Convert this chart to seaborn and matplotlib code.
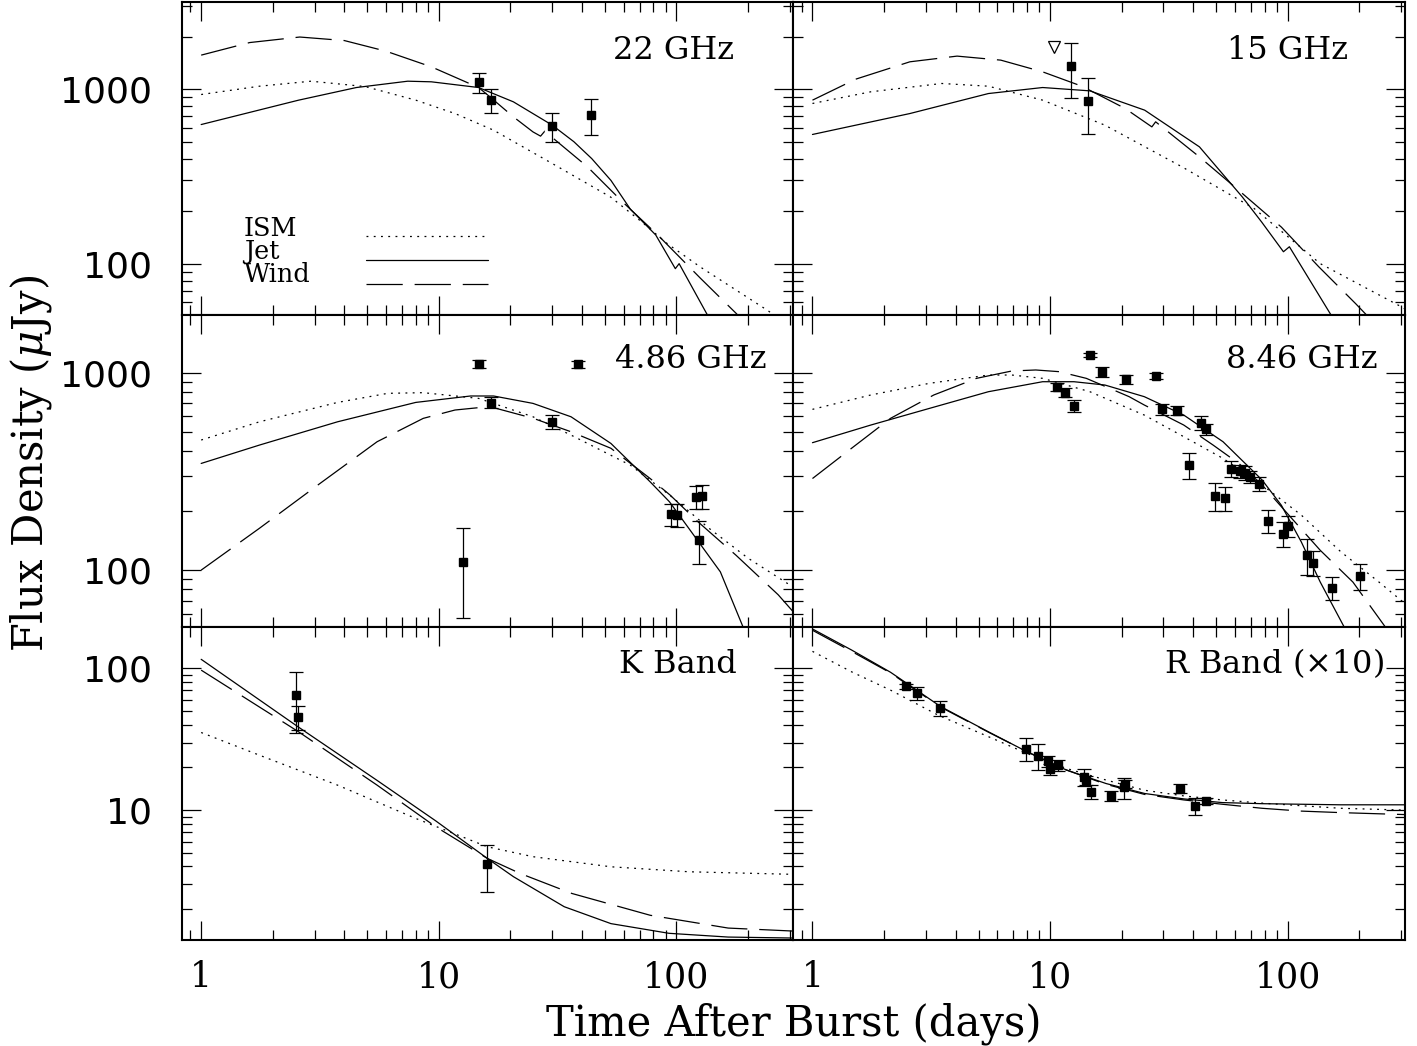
import matplotlib
matplotlib.use("Agg")
import matplotlib.pyplot as plt
from matplotlib.lines import Line2D
from matplotlib.ticker import FuncFormatter, NullFormatter, LogLocator
import numpy as np
import pandas as pd
import seaborn as sns

# ---------------- measured points (time in days, flux in uJy) ----------------
t22 = [14.7, 16.6, 29.9, 43.7]
f22 = [1100, 870, 613, 712]
e22 = [145, 137, 113, 168]

t15 = [12.3, 14.5]
f15 = [1361, 857]
e15 = [475, 300]
t15_lim = [10.35]
f15_lim = [1750]

t486 = [12.6, 14.7, 16.6, 29.8, 38.4, 95.2, 100.7, 120.8, 124.5, 128]
f486 = [110, 1111, 705, 564, 1102, 192, 190, 235, 142, 237]
e486 = [53, 50, 45, 48, 45, 24, 25, 32, 35, 34]

t846 = [10.7, 11.6, 12.6, 14.7, 16.6, 20.8, 27.8, 29.7, 34.1, 38.4, 43.3, 45.5, 49.4,
        54.3, 57.5, 62.8, 66.2, 69.5, 75.9, 82.4, 95.2, 100.7, 121, 127.4, 152.8, 200.9]
f846 = [849, 792, 681, 1229, 1012, 925, 962, 652, 642, 340, 558, 516, 238,
        231, 327, 317, 311, 297, 273, 178, 153, 168, 119, 109, 81.4, 93.3]
e846 = [40, 40, 47, 35, 58, 50, 38, 45, 35, 50, 43, 32, 38,
        32, 30, 25, 25, 22, 22, 23, 22, 20, 25, 16, 11, 14]

tK = [2.50, 2.55, 16.0]
fK = [64.8, 45.6, 4.16]
eK = [30, 8.7, 1.5]

tR = [2.48, 2.75, 3.45, 7.94, 8.89, 9.81, 9.98, 10.8, 13.9, 14.1, 14.8, 18.0, 20.5, 20.7, 35.2, 40.6, 45.3]
fR = [75.0, 66.6, 52.8, 27.2, 24.1, 22.2, 19.5, 20.8, 17.2, 16.3, 13.5, 12.6, 14.45, 15.3, 14.2, 10.7, 11.6]
eR = [3, 7, 6.5, 5, 5, 2, 1.7, 1.8, 2.4, 1.2, 1.5, 1, 2.5, 1.0, 1.1, 1.4, 0.5]

# ---------------- model curves ----------------
t22_ism = [1, 1.76, 2.9, 4.9, 8.0, 11.7, 17.0, 30, 52.8, 71.6, 91.6, 126, 240, 300]
f22_ism = [932, 1040, 1111, 1035, 865, 725, 582, 375, 241, 173, 130, 95.7, 54.3, 44]
t22_jet = [1, 2.57, 4.5, 7.4, 9.3, 14.7, 20.6, 30, 37, 44, 53, 64, 81.8, 98.9, 102.6, 134, 150]
f22_jet = [627, 865, 1022, 1111, 1102, 1022, 846, 622, 500, 400, 300, 205, 146, 93.6, 100, 51.7, 40]
t22_wind = [1, 1.6, 2.6, 4.0, 6.0, 9.3, 14.7, 16.4, 20.6, 24.9, 26.8, 27.9, 42.2, 59.3, 83.4, 126, 178, 200]
f22_wind = [1567, 1850, 1990, 1900, 1650, 1343, 1022, 904, 694, 569, 538, 574, 359, 226, 146, 82.6, 52, 44]

t15_ism = [1, 1.76, 3.5, 5.5, 9.3, 17, 36, 72.2, 137, 305, 330]
f15_ism = [828, 966, 1078, 1040, 865, 622, 358, 207, 100, 56, 52]
t15_jet = [1, 2.57, 5.5, 9.3, 14.7, 25, 42.5, 64.4, 77.7, 95.9, 101.6, 151, 170]
f15_jet = [550, 725, 944, 1022, 978, 758, 467, 241, 173, 117, 125, 51.6, 40]
t15_wind = [1, 1.52, 2.57, 4.06, 6.2, 9.3, 13.6, 20.7, 26.8, 27.8, 42.5, 62, 94, 135, 193, 230]
f15_wind = [865, 1141, 1435, 1547, 1467, 1257, 1040, 775, 608, 650, 409, 264, 162, 96, 59, 46]

t486_ism = [1, 1.76, 3.75, 6.1, 8.6, 14.7, 24.9, 36, 64, 93.6, 137, 200, 310]
f486_ism = [456, 564, 707, 786, 792, 741, 598, 483, 340, 240, 163, 115, 82]
t486_jet = [1, 1.76, 3.75, 8, 13.6, 17, 24.9, 36, 53, 77.5, 93.4, 112.6, 153, 190, 200]
f486_jet = [347, 430, 564, 707, 762, 762, 699, 598, 438, 280, 222, 163, 98, 52, 45]
t486_wind = [1, 1.76, 3.1, 5.5, 8.6, 11.7, 14.7, 17, 25, 36, 53, 77.5, 94, 123, 178, 268, 310]
f486_wind = [100, 163, 270, 447, 587, 647, 665, 665, 587, 502, 414, 291, 240, 176, 119, 75, 61.5]

t846_ism = [1, 1.76, 3.1, 5.5, 6.9, 9.3, 14.7, 24.9, 36.5, 53.4, 78, 114, 167, 242, 310]
f846_ism = [652, 771, 883, 973, 973, 936, 801, 610, 474, 368, 270, 190, 124, 87, 68]
t846_jet = [1, 1.76, 3.1, 5.5, 9.3, 12.6, 17, 24.9, 36.5, 53.4, 78, 94, 114, 137, 172, 190]
f846_jet = [442, 543, 659, 801, 900, 900, 866, 756, 610, 447, 286, 213, 139, 87, 52, 42]
t846_wind = [1, 1.46, 2.13, 3.24, 4.9, 6.9, 8.7, 10.9, 14.2, 21.5, 24.9, 36.5, 48.5, 62.6, 78, 101, 137, 188, 262, 280]
f846_wind = [291, 414, 587, 771, 936, 1020, 1032, 1012, 936, 756, 686, 543, 430, 345, 270, 190, 126, 87, 50, 45]

tK_ism = [1, 1.76, 3.75, 8, 16, 24.9, 53, 113, 310]
fK_ism = [35.3, 24.4, 15.0, 8.73, 5.51, 4.69, 3.98, 3.67, 3.52]
tK_jet = [1, 2.57, 5.5, 9.7, 16, 20.6, 33.7, 53, 93, 165, 310]
fK_jet = [116, 38.5, 16.2, 8.4, 4.56, 3.39, 2.08, 1.58, 1.35, 1.27, 1.25]
tK_wind = [1, 2.57, 5.5, 9.7, 16, 22, 36.3, 77.5, 165, 310]
fK_wind = [97.3, 35.7, 15.0, 7.63, 4.56, 3.57, 2.58, 1.81, 1.47, 1.40]

tR_ism = [1, 1.46, 2.13, 3.38, 5.5, 8, 11.7, 17.2, 25, 36.5, 53, 78, 167, 310]
fR_ism = [132, 94.7, 70.3, 46.8, 33.0, 25.1, 19.7, 16.3, 13.8, 12.6, 11.8, 11.2, 10.3, 10.0]
tR_jet = [1, 1.46, 2.13, 2.48, 3.45, 5.5, 8, 11.7, 17.2, 25, 36.5, 53, 78, 167, 310]
fR_jet = [190, 135, 94, 79, 54, 35.7, 25.8, 19.2, 15.4, 13.1, 12.0, 11.3, 11.1, 10.9, 10.9]
tR_wind = [1, 1.46, 2.13, 2.48, 3.45, 5.5, 8, 11.7, 17.2, 25, 36.5, 53, 78, 114, 167, 310]
fR_wind = [186, 132, 93, 78, 53.5, 35.5, 25.8, 19.2, 15.2, 12.9, 11.8, 11.0, 10.3, 9.84, 9.6, 9.3]

panel_names = ["22 GHz", "15 GHz", "4.86 GHz", "8.46 GHz", "K Band", r"R Band ($\times$10)"]
row_ylims = [(51, 3160), (51.3, 1967), (1.21, 195)]

# ---------------- style ----------------
sns.set_theme(style="ticks")
plt.rcParams["font.family"] = ["DejaVu Serif"]
plt.rcParams["mathtext.fontset"] = "dejavuserif"
plt.rcParams["text.color"] = "black"
plt.rcParams["axes.labelcolor"] = "black"
plt.rcParams["xtick.color"] = "black"
plt.rcParams["ytick.color"] = "black"
plt.rcParams["axes.edgecolor"] = "black"

model_dashes = {"ISM": (1.5, 4.3), "Jet": "", "Wind": (29, 9.5)}


def model_frame(ism, jet, wind):
    parts = []
    for name, (t, f) in zip(["ISM", "Jet", "Wind"], [ism, jet, wind]):
        parts.append(pd.DataFrame({"t": t, "flux": f, "model": name}))
    return pd.concat(parts, ignore_index=True)


panels = [
    (model_frame((t22_ism, f22_ism), (t22_jet, f22_jet), (t22_wind, f22_wind)), (t22, f22, e22), (0.903, 0.817)),
    (model_frame((t15_ism, f15_ism), (t15_jet, f15_jet), (t15_wind, f15_wind)), (t15, f15, e15), (0.907, 0.817)),
    (model_frame((t486_ism, f486_ism), (t486_jet, f486_jet), (t486_wind, f486_wind)), (t486, f486, e486), (0.956, 0.829)),
    (model_frame((t846_ism, f846_ism), (t846_jet, f846_jet), (t846_wind, f846_wind)), (t846, f846, e846), (0.956, 0.829)),
    (model_frame((tK_ism, fK_ism), (tK_jet, fK_jet), (tK_wind, fK_wind)), (tK, fK, eK), (0.908, 0.853)),
    (model_frame((tR_ism, fR_ism), (tR_jet, fR_jet), (tR_wind, fR_wind)), (tR, fR, eR), (0.966, 0.853)),
]

fig, axes = plt.subplots(3, 2, figsize=(14.17, 10.46), dpi=100)
fig.subplots_adjust(left=0.1284, right=0.9912, top=0.9981, bottom=0.1013, wspace=0, hspace=0)

plain = FuncFormatter(lambda v, _: f"{v:g}")

for i, (df, (td, fd, ed), (lx, ly)) in enumerate(panels):
    ax = axes[i // 2, i % 2]
    ax.set_xscale("log")
    ax.set_yscale("log")
    sns.lineplot(data=df, x="t", y="flux", style="model", dashes=model_dashes,
                 color="black", linewidth=0.9, estimator=None, sort=False,
                 legend=False, ax=ax)
    ax.errorbar(td, fd, yerr=ed, fmt="s", color="black", ms=6,
                elinewidth=0.9, capsize=5, capthick=0.9, zorder=3)
    ax.set_xlim(0.83, 310)
    ax.set_ylim(*row_ylims[i // 2])
    ax.set_xlabel("")
    ax.set_ylabel("")
    ax.text(lx, ly, panel_names[i], transform=ax.transAxes, ha="right",
            va="baseline", fontsize=23, color="black")

    for axis in (ax.xaxis, ax.yaxis):
        axis.set_major_locator(LogLocator(base=10, numticks=12))
        axis.set_minor_locator(LogLocator(base=10, subs=np.arange(2, 10), numticks=12))
        axis.set_major_formatter(plain)
        axis.set_minor_formatter(NullFormatter())
    ax.tick_params(which="both", direction="in", top=True, right=True,
                   width=0.9, color="black", labelcolor="black")
    ax.tick_params(which="major", length=14)
    ax.tick_params(which="minor", length=7)
    ax.tick_params(axis="x", labelsize=25, pad=14.4, labelbottom=(i // 2 == 2))
    ax.tick_params(axis="y", labelsize=26, pad=21.6, labelleft=(i % 2 == 0))
    for sp in ax.spines.values():
        sp.set_linewidth(1.5)
        sp.set_color("black")
    ax.set_facecolor("white")

# upper limit at 15 GHz
axes[0, 1].plot(t15_lim, f15_lim, linestyle="none", marker="v", ms=8,
                mfc="white", mec="black", mew=0.9)

# legend in the 22 GHz panel: labels on the left, line samples on the right
ax0 = axes[0, 0]
ax0.text(0.1015, 0.314, "ISM\nJet\nWind", transform=ax0.transAxes, ha="left",
         va="top", fontsize=18.4, linespacing=0.887, color="black")
keys = [Line2D([], [], color="black", lw=0.9, dashes=model_dashes["ISM"]),
        Line2D([], [], color="black", lw=0.9),
        Line2D([], [], color="black", lw=0.9, dashes=model_dashes["Wind"])]
ax0.legend(keys, ["", "", ""], loc="upper left", bbox_to_anchor=(0.3003, 0.270),
           frameon=False, fontsize=10, handlelength=8.85, handletextpad=0,
           borderpad=0, borderaxespad=0, labelspacing=0.71)

for ax in axes[:, 0]:
    for lab in ax.get_yticklabels():
        lab.set_family("DejaVu Sans")

fig.text(0.5603, 0.0105, "Time After Burst (days)", ha="center", va="baseline",
         fontsize=30, color="black")
fig.text(0.022, 0.557, r"Flux Density ($\mu$Jy)", rotation=90, ha="center",
         va="center", fontsize=30, color="black")

fig.savefig("out.png", dpi=100, facecolor="white")
